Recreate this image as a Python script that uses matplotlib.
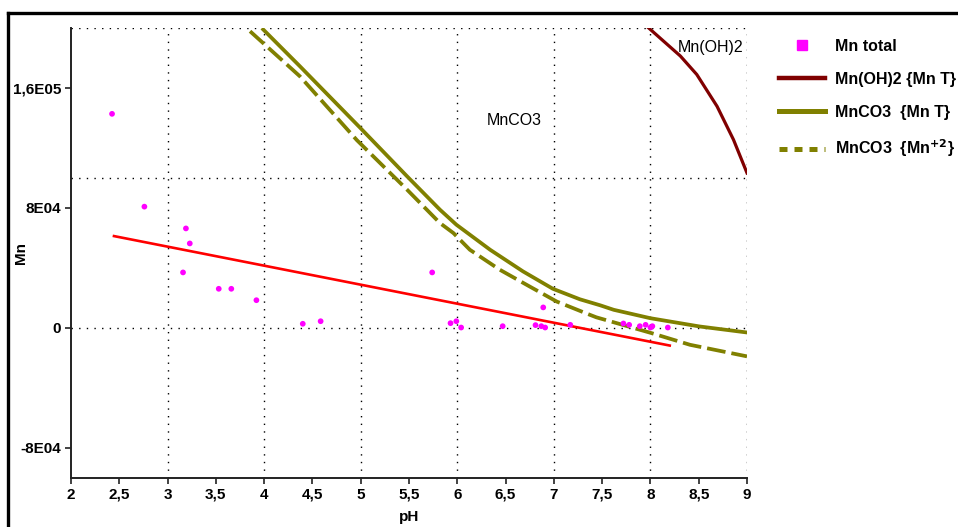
import matplotlib
matplotlib.use("Agg")
import matplotlib.pyplot as plt
from matplotlib.lines import Line2D

plt.rcParams['font.family'] = ['Liberation Sans', 'DejaVu Sans']

# Measured Mn total
ph_pts = [2.425, 2.76, 3.19, 3.23, 3.16, 3.53, 3.66, 3.92, 4.40, 4.585, 5.74,
          5.93, 5.99, 6.04, 6.47, 6.81, 6.87, 6.91, 6.89, 7.17, 7.72, 7.78,
          7.89, 7.95, 8.00, 8.02, 8.18]
mn_pts = [142500, 80700, 66200, 56200, 36900, 26000, 26000, 18400, 2700, 4400, 36900,
          3100, 4400, 200, 1100, 1800, 1100, 200, 13600, 2000, 2900, 2000,
          1100, 2000, 200, 1100, 200]

# Trend line (red)
trend_x = [2.445, 8.20]
trend_y = [61100, -11800]

# MnCO3 {Mn T}
mnco3_t_x = [3.99, 4.37, 4.99, 5.48, 5.82, 5.99, 6.34, 6.68, 6.99, 7.27, 7.48, 7.62, 8.0, 8.51, 9.0]
mnco3_t_y = [198700, 174200, 133500, 100900, 78700, 68700, 52000, 37600, 26000, 19000, 15000, 12000, 6400, 900, -3100]

# MnCO3 {Mn+2}
mnco3_2_x = [3.854, 4.37, 4.96, 5.48, 5.82, 5.96, 6.13, 6.44, 6.75, 7.03, 7.34, 7.44, 8.0, 8.41, 9.0]
mnco3_2_y = [197500, 167500, 125000, 92000, 69800, 63100, 52000, 38700, 27500, 17500, 9500, 7000, -3300, -11300, -19000]

# Mn(OH)2 {Mn T}
mnoh2_x = [7.98, 8.31, 8.48, 8.69, 8.86, 9.0]
mnoh2_y = [199800, 181000, 168700, 147500, 125300, 103100]

xticks = [2, 2.5, 3, 3.5, 4, 4.5, 5, 5.5, 6, 6.5, 7, 7.5, 8, 8.5, 9]
xticklabels = ['2', '2,5', '3', '3,5', '4', '4,5', '5', '5,5', '6', '6,5', '7', '7,5', '8', '8,5', '9']
yticks = [-80000, 0, 80000, 160000]
yticklabels = ['-8E04', '0', '8E04', '1,6E05']
xgrid = [3, 4, 5, 6, 7, 8, 9]
ygrid = [0, 100000, 200000]

legend_labels = ['Mn total', 'Mn(OH)2 {Mn T}', 'MnCO3  {Mn T}', r'MnCO3  {Mn$^{\mathbf{+2}}$}']

OLIVE = '#808000'
DARKRED = '#800000'
MAGENTA = '#FF00FF'
RED = '#FF0000'

fig = plt.figure(figsize=(9.58, 5.27), dpi=100)
ax = fig.add_axes([71/958, 1-478/527, 676/958, 450.5/527])
ax.set_xlim(2, 9)
ax.set_ylim(-100000, 200000)

for gx in xgrid:
    ax.axvline(gx, color='black', lw=1.0, linestyle=(0, (1, 4.5)), zorder=1)
for gy in ygrid:
    ax.axhline(gy, color='black', lw=1.0, linestyle=(0, (1, 4.5)), zorder=1)

ax.plot(trend_x, trend_y, color=RED, lw=1.9, zorder=3)
ax.plot(mnco3_t_x, mnco3_t_y, color=OLIVE, lw=2.7, zorder=3, solid_joinstyle='round')
ax.plot(mnco3_2_x, mnco3_2_y, color=OLIVE, lw=2.7, linestyle=(0, (5, 1.6)), zorder=3)
ax.plot(mnoh2_x, mnoh2_y, color=DARKRED, lw=2.3, zorder=3, solid_joinstyle='round')
ax.scatter(ph_pts, mn_pts, s=17, color=MAGENTA, edgecolors='none', zorder=4)

ax.text(6.59, 138200, 'MnCO3', fontsize=11.5, ha='center', va='center')
ax.text(8.62, 186500, 'Mn(OH)2', fontsize=11.5, ha='center', va='center')

for s in ['top', 'right']:
    ax.spines[s].set_visible(False)
for s in ['left', 'bottom']:
    ax.spines[s].set_linewidth(1.4)
    ax.spines[s].set_color('#222222')

ax.set_xticks(xticks)
ax.set_xticklabels(xticklabels, fontsize=11, fontweight='bold')
ax.set_yticks(yticks)
ax.set_yticklabels(yticklabels, fontsize=11, fontweight='bold')
ax.tick_params(direction='out', length=4, width=1.2, color='#222222', pad=3)

ax.set_xlabel('pH', fontsize=11, fontweight='bold')
ax.xaxis.set_label_coords(0.5, -0.072)
ax.set_ylabel('Mn', fontsize=11, fontweight='bold')
ax.yaxis.set_label_coords(-0.063, 0.5)

handles = [
    Line2D([], [], color=MAGENTA, marker='s', markersize=7, linestyle='none'),
    Line2D([], [], color=DARKRED, lw=3.2),
    Line2D([], [], color=OLIVE, lw=3.6),
    Line2D([], [], color=OLIVE, lw=3.6, linestyle=(0, (1.6, 1.4))),
]
fig.legend(handles, legend_labels, loc='upper left',
           bbox_to_anchor=(779/958, 1-39/527), frameon=False,
           prop={'size': 11.5, 'weight': 'bold'}, handlelength=2.9,
           handletextpad=0.6, labelspacing=1.12, borderpad=0, borderaxespad=0)

# outer frame (top and left only visible)
fig.add_artist(Line2D([8/958, 1.0], [1-13/527, 1-13/527], color='black', lw=2.4,
                      transform=fig.transFigure))
fig.add_artist(Line2D([8/958, 8/958], [0, 1-13/527], color='black', lw=2.4,
                      transform=fig.transFigure))

fig.savefig('out.png', dpi=100)
